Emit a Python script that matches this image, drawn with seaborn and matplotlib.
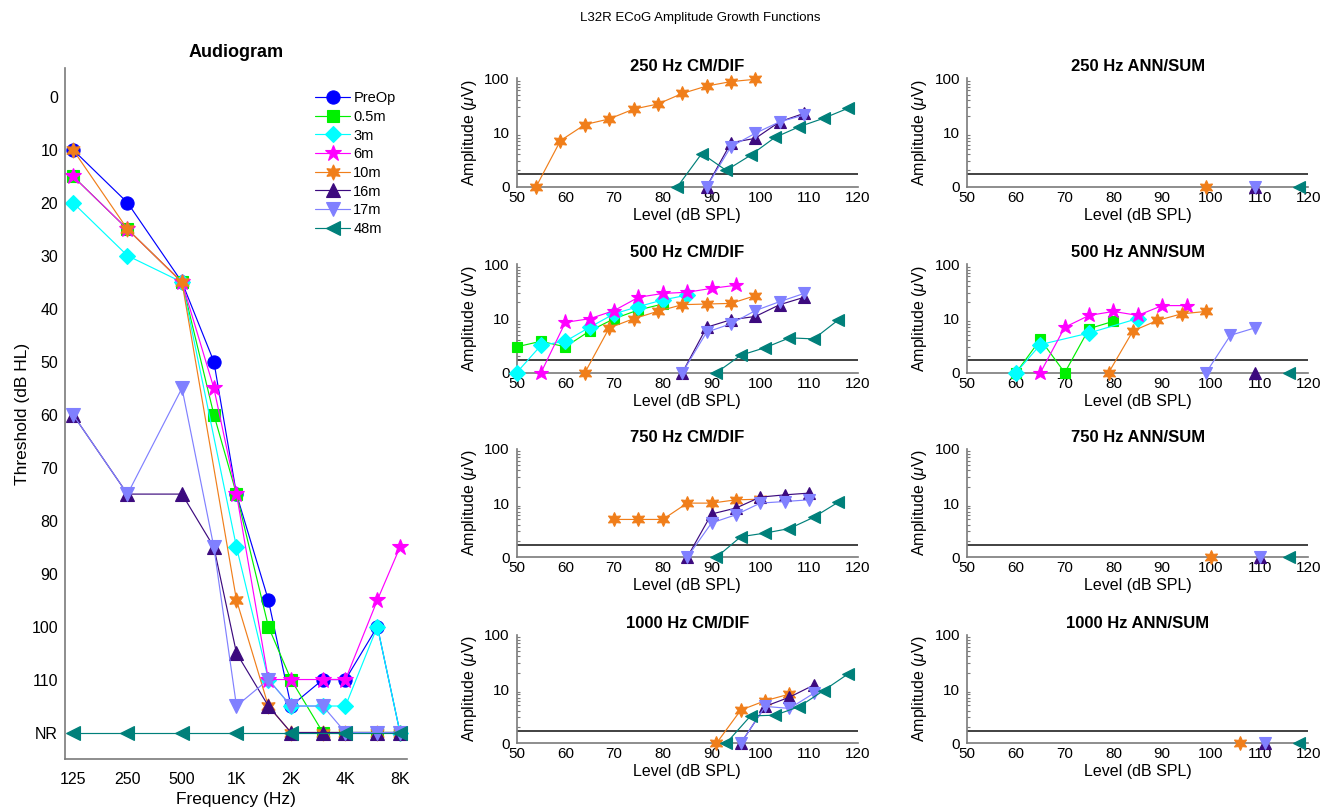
import numpy as np
import pandas as pd
import matplotlib
matplotlib.use('Agg')
import matplotlib.pyplot as plt
import seaborn as sns
from matplotlib.ticker import FixedLocator, NullLocator, LogLocator, NullFormatter

sns.set_theme(style='white')
plt.rcParams['font.family'] = ['Liberation Sans', 'DejaVu Sans']
plt.rcParams['mathtext.fontset'] = 'custom'
plt.rcParams['mathtext.rm'] = 'Liberation Sans'
plt.rcParams['mathtext.it'] = 'Liberation Sans:italic'
plt.rcParams['text.color'] = 'black'
plt.rcParams['axes.labelcolor'] = 'black'
plt.rcParams['axes.titlecolor'] = 'black'

# ---------------- data ----------------
series_names = ['PreOp', '0.5m', '3m', '6m', '10m', '16m', '17m', '48m']
series_colors = ['#0000FF', '#00F000', '#00FFFF', '#FF00FF', '#F07E1A', '#3C0A7E', '#8080FF', '#00807A']
series_markers = ['o', 's', 'D', '*', (6, 1, 0), '^', 'v', '<']
series_msize = [9.5, 8.5, 8.5, 12, 11, 9.5, 9.5, 9.5]

aud_freqs = [125, 250, 500, 750, 1000, 1500, 2000, 3000, 4000, 6000, 8000]
N = None
aud_preop = [10, 20, 35, 50, 75, 95, 115, 110, 110, 100, 120]
aud_05m = [15, 25, 35, 60, 75, 100, 110, 120, 120, 120, 120]
aud_3m = [20, 30, 35, N, 85, 110, 115, 115, 115, 100, 120]
aud_6m = [15, 25, 35, 55, 75, 110, 110, 110, 110, 95, 85]
aud_10m = [10, 25, 35, N, 95, 115, 120, 120, 120, 120, 120]
aud_16m = [60, 75, 75, 85, 105, 115, 120, 120, 120, 120, 120]
aud_17m = [60, 75, 55, 85, 115, 110, 115, 115, 120, 120, 120]
aud_48m = [120, 120, 120, N, 120, N, 120, N, 120, N, 120]
aud_xticks = [125, 250, 500, 1000, 2000, 4000, 8000]
aud_xticklabels = ['125', '250', '500', '1K', '2K', '4K', '8K']
aud_yticks = [0, 10, 20, 30, 40, 50, 60, 70, 80, 90, 100, 110, 120]
aud_yticklabels = ['0', '10', '20', '30', '40', '50', '60', '70', '80', '90', '100', '110', 'NR']

# ECoG growth functions: series -> (levels dB SPL, amplitude uV; 1 = no response "0")
cm250 = {
    '10m': ([54, 59, 64, 69, 74, 79, 84, 89, 94, 99], [1, 7.1, 14, 17.8, 27, 33.6, 52.6, 72, 87, 96]),
    '16m': ([89, 94, 99, 104, 109], [1, 6.5, 7.8, 15.8, 22.6]),
    '17m': ([89, 94, 99, 104, 109], [1, 5.5, 9.7, 15.8, 21]),
    '48m': ([83, 88, 93, 98, 103, 108, 113, 118], [1, 4.1, 2.0, 3.8, 8.1, 12.8, 18.3, 28]),
}
ann250 = {
    '10m': ([99], [1]), '16m': ([109], [1]), '17m': ([109], [1]), '48m': ([118], [1]),
}
cm500 = {
    '0.5m': ([50, 55, 60, 65, 70, 75, 80], [3.0, 3.8, 3.0, 5.9, 9.9, 14.4, 18.5]),
    '3m': ([50, 55, 60, 65, 70, 75, 80, 85], [1, 3.2, 3.8, 6.9, 12.2, 16.6, 22, 27]),
    '6m': ([55, 60, 65, 70, 75, 80, 85, 90, 95], [1, 8.5, 9.9, 14, 24.6, 29, 30.5, 36, 41]),
    '10m': ([64, 69, 74, 79, 84, 89, 94, 99], [1, 6.7, 9.9, 13.6, 18, 18.5, 19, 26.4]),
    '16m': ([84, 89, 94, 99, 104, 109], [1, 6.9, 9.5, 10.9, 18, 24.6]),
    '17m': ([84, 89, 94, 99, 104, 109], [1, 5.6, 8, 14, 20.5, 29]),
    '48m': ([91, 96, 101, 106, 111, 116], [1, 2.1, 2.9, 4.4, 4.2, 9.4]),
}
ann500 = {
    '0.5m': ([60, 65, 70, 75, 80], [1, 4.1, 1, 6.5, 8.9]),
    '3m': ([60, 65, 75, 85], [1, 3.3, 5.4, 10]),
    '6m': ([65, 70, 75, 80, 85, 90, 95], [1, 6.9, 11.4, 13.5, 11.4, 17.3, 17.3]),
    '10m': ([79, 84, 89, 94, 99], [1, 5.9, 9.2, 12.2, 13.5]),
    '16m': ([109], [1]),
    '17m': ([99, 104, 109], [1, 4.9, 6.7]),
    '48m': ([116], [1]),
}
cm750 = {
    '10m': ([70, 75, 80, 85, 90, 95, 100], [5.0, 5.0, 5.0, 10, 10, 11.5, 11.8]),
    '16m': ([85, 90, 95, 100, 105, 110], [1, 6.3, 8.1, 12.9, 14.2, 15.3]),
    '17m': ([85, 90, 95, 100, 105, 110], [1, 4.3, 6.1, 10, 10.7, 11.5]),
    '48m': ([91, 96, 101, 106, 111, 116], [1, 2.4, 2.8, 3.4, 5.5, 10.4]),
}
ann750 = {
    '10m': ([100], [1]), '16m': ([110], [1]), '17m': ([110], [1]), '48m': ([116], [1]),
}
cm1000 = {
    '10m': ([91, 96, 101, 106], [1, 4.1, 6.1, 8.1]),
    '16m': ([96, 101, 106, 111], [1, 4.8, 7.1, 11.9]),
    '17m': ([96, 101, 106, 111], [1, 4.8, 4.4, 8.4]),
    '48m': ([93, 98, 103, 108, 113, 118], [1, 3.2, 3.3, 4.75, 9.4, 19]),
}
ann1000 = {
    '10m': ([106], [1]), '16m': ([111], [1]), '17m': ([111], [1]), '48m': ([118], [1]),
}
noise_floor = 1.7
panel_titles = [['250 Hz CM/DIF', '250 Hz ANN/SUM'],
                ['500 Hz CM/DIF', '500 Hz ANN/SUM'],
                ['750 Hz CM/DIF', '750 Hz ANN/SUM'],
                ['1000 Hz CM/DIF', '1000 Hz ANN/SUM']]
panel_data = [[cm250, ann250], [cm500, ann500], [cm750, ann750], [cm1000, ann1000]]
ecog_xticks = [50, 60, 70, 80, 90, 100, 110, 120]

# ---------------- figure ----------------
SPINE = '#7a7a7a'
fig = plt.figure(figsize=(13.22, 8.09), dpi=100)

style = {n: (c, m, s) for n, c, m, s in zip(series_names, series_colors, series_markers, series_msize)}

# Audiogram
ax_a = fig.add_axes([0.0492, 0.0618, 0.2587, 0.854])
aud_series = [aud_preop, aud_05m, aud_3m, aud_6m, aud_10m, aud_16m, aud_17m, aud_48m]
for name, vals in zip(series_names, aud_series):
    c, m, s = style[name]
    df = pd.DataFrame({'f': aud_freqs, 't': vals}).dropna()
    sns.lineplot(data=df, x='f', y='t', ax=ax_a, color=c, marker=m, markersize=s,
                 markeredgecolor=c, markerfacecolor=c, markeredgewidth=0.8,
                 linewidth=0.85, sort=False, errorbar=None, label=name, clip_on=False)
ax_a.set_xscale('log')
ax_a.set_xlim(113, 8750)
ax_a.set_ylim(125, -5.4)
ax_a.xaxis.set_major_locator(FixedLocator(aud_xticks))
ax_a.set_xticklabels(aud_xticklabels)
ax_a.xaxis.set_minor_locator(NullLocator())
ax_a.set_yticks(aud_yticks)
ax_a.set_yticklabels(aud_yticklabels)
ax_a.set_xlabel('Frequency (Hz)', fontsize=12.5, labelpad=4)
ax_a.set_ylabel('Threshold (dB HL)', fontsize=12.5, labelpad=1)
ax_a.set_title('Audiogram', fontsize=13, fontweight='bold', pad=8)
ax_a.tick_params(axis='both', direction='in', length=5, width=1, color=SPINE, labelsize=11.5, labelcolor='black')
ax_a.tick_params(axis='x', pad=9)
ax_a.tick_params(axis='y', pad=5)
for sp in ['top', 'right']:
    ax_a.spines[sp].set_visible(False)
for sp in ['left', 'bottom']:
    ax_a.spines[sp].set_color(SPINE)
    ax_a.spines[sp].set_linewidth(1.2)
leg = ax_a.legend(loc='upper left', bbox_to_anchor=(0.715, 0.975), frameon=False, fontsize=10.5,
                  handlelength=2.4, handletextpad=0.2, labelspacing=0.32, borderaxespad=0)

# ECoG panels
lefts = [0.3908, 0.7317]
bottoms = [0.7692, 0.5393, 0.3111, 0.0812]
W, H = 0.258, 0.134
for r in range(4):
    for col in range(2):
        ax = fig.add_axes([lefts[col], bottoms[r], W, H])
        ax.axhline(noise_floor, color='#333333', linewidth=1.3, zorder=1)
        d = panel_data[r][col]
        for name in series_names:
            if name not in d:
                continue
            c, m, s = style[name]
            lv, amp = d[name]
            df = pd.DataFrame({'lvl': lv, 'amp': amp})
            sns.lineplot(data=df, x='lvl', y='amp', ax=ax, color=c, marker=m, markersize=s * 0.92,
                         markeredgecolor=c, markerfacecolor=c, markeredgewidth=0.8,
                         linewidth=0.85, sort=False, errorbar=None, clip_on=False, zorder=3)
        ax.set_yscale('log')
        ax.set_ylim(1, 100)
        ax.set_xlim(50, 120)
        ax.set_yticks([1, 10, 100])
        ax.set_yticklabels(['0', '10', '100'])
        ax.yaxis.set_minor_locator(LogLocator(base=10, subs=np.arange(2, 10)))
        ax.yaxis.set_minor_formatter(NullFormatter())
        ax.set_xticks(ecog_xticks)
        ax.set_xticklabels([str(v) for v in ecog_xticks])
        ax.set_title(panel_titles[r][col], fontsize=12, fontweight='bold', pad=5)
        ax.set_xlabel('Level (dB SPL)', fontsize=11.5, labelpad=2)
        ax.set_ylabel(r'Amplitude ($\mu$V)', fontsize=11.5, labelpad=4)
        ax.tick_params(axis='both', which='major', direction='in', length=4, width=1, color=SPINE,
                       labelsize=11, labelcolor='black')
        ax.tick_params(axis='y', which='minor', direction='in', length=2, width=0.8, color=SPINE, left=True)
        ax.tick_params(axis='x', pad=3)
        ax.tick_params(axis='y', pad=5)
        for sp in ['top', 'right']:
            ax.spines[sp].set_visible(False)
        for sp in ['left', 'bottom']:
            ax.spines[sp].set_color(SPINE)
            ax.spines[sp].set_linewidth(1.2)
        if ax.get_legend() is not None:
            ax.get_legend().remove()

fig.text(0.53, 0.978, 'L32R ECoG Amplitude Growth Functions', ha='center', va='center', fontsize=9.5)

fig.savefig('out.png', dpi=100)
